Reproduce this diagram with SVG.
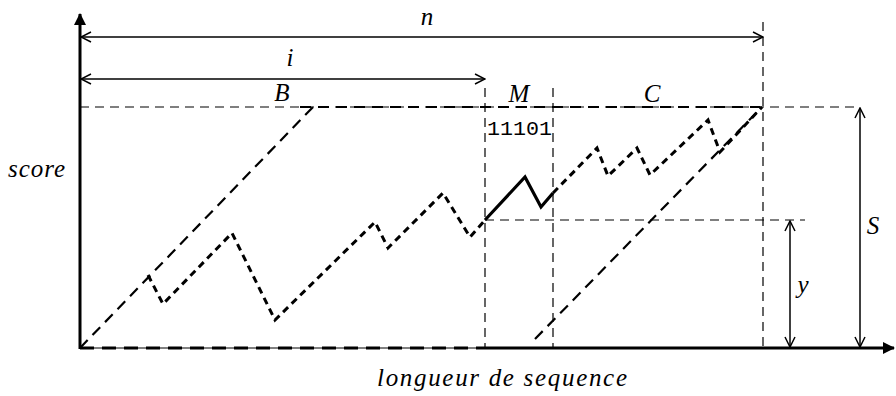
<svg xmlns="http://www.w3.org/2000/svg" width="896" height="396" viewBox="0 0 896 396">
<style>
.lbl{font-family:'Liberation Serif',serif;font-style:italic;font-size:25px;fill:#000}
.mono{font-family:'Liberation Mono',monospace;font-size:20px;fill:#000}
.dim{stroke:#000;stroke-width:1.5;fill:none}
.guide{stroke:#000;stroke-width:1.2;stroke-dasharray:9,6;fill:none}
.long{stroke:#000;stroke-width:2.2;stroke-dasharray:11,7;fill:none}
.dot{stroke:#000;stroke-width:3;stroke-dasharray:7,5;fill:none;stroke-linejoin:miter}
</style>
<defs>
<marker id="open" viewBox="0 0 12 12" refX="11" refY="6" markerWidth="12" markerHeight="12" markerUnits="userSpaceOnUse" orient="auto-start-reverse">
<path d="M1,1 L11,6 L1,11" fill="none" stroke="#000" stroke-width="1.5"/>
</marker>
<marker id="solid" viewBox="0 0 12 12" refX="11" refY="6" markerWidth="12" markerHeight="12" markerUnits="userSpaceOnUse" orient="auto">
<path d="M0,0 L12,6 L0,12 Z" fill="#000"/>
</marker>
</defs>
<g id="axes">
<line x1="80" y1="349" x2="80" y2="14" stroke="#000" stroke-width="3" marker-end="url(#solid)"/>
<line x1="80" y1="348" x2="485" y2="348" stroke="#000" stroke-width="1"/>
<line x1="80" y1="348" x2="485" y2="348" stroke="#000" stroke-width="3" stroke-dasharray="14,8"/>
<line x1="485" y1="348" x2="894" y2="348" stroke="#000" stroke-width="3" marker-end="url(#solid)"/>
</g>
<g id="connectors">
<line class="dim" x1="81" y1="37" x2="763" y2="37" marker-start="url(#open)" marker-end="url(#open)"/>
<line class="dim" x1="81" y1="79" x2="485" y2="79" marker-start="url(#open)" marker-end="url(#open)"/>
<line class="dim" x1="790" y1="221" x2="790" y2="347" marker-start="url(#open)" marker-end="url(#open)"/>
<line class="dim" x1="860" y1="108" x2="860" y2="347" marker-start="url(#open)" marker-end="url(#open)"/>
<line class="guide" x1="80" y1="107" x2="860" y2="107"/>
<line class="long" x1="300" y1="107" x2="760" y2="107"/>
<line class="guide" x1="485" y1="88" x2="485" y2="348"/>
<line class="guide" x1="553" y1="88" x2="553" y2="348"/>
<line class="guide" x1="763" y1="22" x2="763" y2="348"/>
<line class="guide" x1="485" y1="220" x2="805" y2="220"/>
<line class="long" x1="80" y1="348" x2="313" y2="107"/>
<line class="long" x1="535" y1="339" x2="762" y2="107"/>
<polyline class="dot" points="148,275 163,304 232,233 275,320 375,222 388,248 443,193 470,237 485,220"/>
<polyline points="485,220 525,177 541,207 553,193" fill="none" stroke="#000" stroke-width="3.2"/>
<polyline class="dot" points="553,193 597,148 608,176 637,148 650,175 708,120 720,152 762,107"/>
</g>
<g id="labels">
<text class="lbl" x="427" y="25" text-anchor="middle">n</text>
<text class="lbl" x="290" y="66" text-anchor="middle">i</text>
<text class="lbl" x="282" y="101" text-anchor="middle">B</text>
<text class="lbl" x="519" y="102" text-anchor="middle">M</text>
<text class="lbl" x="652" y="102" text-anchor="middle">C</text>
<text class="mono" x="487" y="135" textLength="65" lengthAdjust="spacingAndGlyphs">11101</text>
<text class="lbl" x="8" y="177" textLength="57" lengthAdjust="spacing">score</text>
<text class="lbl" x="803" y="293" text-anchor="middle">y</text>
<text class="lbl" x="873" y="234" text-anchor="middle">S</text>
<text class="lbl" x="377" y="386" textLength="250" lengthAdjust="spacing">longueur de sequence</text>
</g>
</svg>
